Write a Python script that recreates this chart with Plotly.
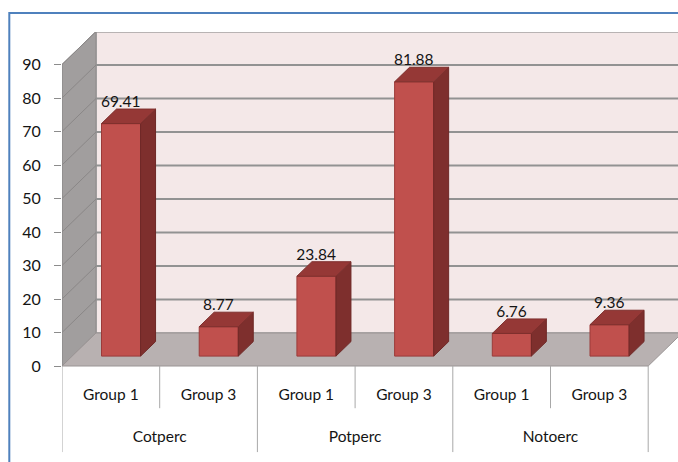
import plotly.graph_objects as go

# ---- data ----
main_categories = ["Cotperc", "Potperc", "Notoerc"]
sub_categories = ["Group 1", "Group 3"]
values = [69.41, 8.77, 23.84, 81.88, 6.76, 9.36]
value_labels = ["69.41", "8.77", "23.84", "81.88", "6.76", "9.36"]
y_ticks = [0, 10, 20, 30, 40, 50, 60, 70, 80, 90]

# ---- pseudo-3D geometry (in axis units) ----
DX = 0.348      # depth shift along x (category units)
DY = 9.85       # depth shift along y (value units)
Y_MAX = 90
BAR_W = 0.4
BAR_D0 = 0.30   # bar front depth (fraction of floor depth)
BAR_D = 0.44    # bar depth (fraction)

n = len(values)
xs = list(range(n))
x_left, x_right = -0.5, n - 0.5
X_RANGE = [x_left, x_left + 616 / 97.7]
Y_RANGE = [-(462 - 366) / 3.35, (366 - 32) / 3.35]

FONT = "Lato"
TXT = "#141414"

fig = go.Figure()

def poly(px, py, fill, line="rgba(0,0,0,0)", lw=0, ax=("x", "y")):
    fig.add_trace(go.Scatter(x=px + [px[0]], y=py + [py[0]], fill="toself", mode="lines",
                             fillcolor=fill, line=dict(color=line, width=lw),
                             xaxis=ax[0], yaxis=ax[1],
                             hoverinfo="skip", showlegend=False))

def seg(px, py, color, width):
    fig.add_trace(go.Scatter(x=px, y=py, mode="lines", line=dict(color=color, width=width),
                             hoverinfo="skip", showlegend=False))

# back wall
poly([x_left + DX, x_right + DX + 1, x_right + DX + 1, x_left + DX],
     [DY, DY, Y_MAX + DY, Y_MAX + DY], "#F4E8E8", "#9A9A9A", 1.5)
# left wall
poly([x_left, x_left + DX, x_left + DX, x_left],
     [0, DY, Y_MAX + DY, Y_MAX], "#A19E9E", "#8E8B8B", 1)
# floor
poly([x_left, x_right, x_right + DX, x_left + DX],
     [0, 0, DY, DY], "#B8B1B1", "#9A9494", 1)

# gridlines (back wall + left wall)
for v in y_ticks[1:]:
    seg([x_left + DX, x_right + DX + 1], [v + DY, v + DY], "#929292", 2)
    seg([x_left, x_left + DX], [v, v + DY], "#8A8787", 1)

# category separators below the floor
for b in [x_left, 1.5, 3.5, x_right]:
    seg([b, b], [0, -25.7], "#A8A8A8", 1)
for b in [0.5, 2.5, 4.5]:
    seg([b, b], [0, -12.6], "#A8A8A8", 1)
seg([x_left, x_left], [0, Y_MAX], "#8E8B8B", 1)

# bars: front faces (on an overlaying axis pair so they sit above the walls)
fig.add_trace(go.Bar(x=[i + BAR_D0 * DX for i in xs], y=values, base=[BAR_D0 * DY] * n,
                     width=BAR_W, marker=dict(color="#C0504D", line=dict(color="#9B3B39", width=1)),
                     xaxis="x2", yaxis="y2", hoverinfo="skip", showlegend=False))

# bars: side + top faces
for i, v in enumerate(values):
    xl = i + BAR_D0 * DX - BAR_W / 2
    xr = xl + BAR_W
    b = BAR_D0 * DY
    t = v + b
    ddx, ddy = BAR_D * DX, BAR_D * DY
    poly([xr, xr + ddx, xr + ddx, xr], [b, b + ddy, t + ddy, t], "#7E2F2D", "#6E2826", 1, ("x2", "y2"))
    poly([xl, xr, xr + ddx, xl + ddx], [t, t, t + ddy, t + ddy], "#953836", "#7E2F2D", 1, ("x2", "y2"))

# value labels
fig.add_trace(go.Scatter(x=[i + BAR_D0 * DX + BAR_D * DX / 2 - 0.08 for i in xs],
                         y=[v + (BAR_D0 + BAR_D) * DY - 0.6 for v in values],
                         mode="text", text=value_labels, textposition="top center",
                         textfont=dict(family=FONT, size=15.5, color=TXT),
                         xaxis="x2", yaxis="y2",
                         hoverinfo="skip", showlegend=False, cliponaxis=False))

# category labels
sub_text = [sub_categories[i % 2] for i in xs]
fig.add_trace(go.Scatter(x=xs, y=[-8.9] * n, mode="text", text=sub_text,
                         textfont=dict(family=FONT, size=15.5, color=TXT),
                         hoverinfo="skip", showlegend=False, cliponaxis=False))
fig.add_trace(go.Scatter(x=[0.5, 2.5, 4.5], y=[-21.5] * 3, mode="text", text=main_categories,
                         textfont=dict(family=FONT, size=15.5, color=TXT),
                         hoverinfo="skip", showlegend=False, cliponaxis=False))

fig.update_layout(
    width=678, height=462,
    margin=dict(l=62, r=0, t=32, b=0),
    paper_bgcolor="white", plot_bgcolor="white",
    showlegend=False,
    xaxis=dict(range=X_RANGE, visible=False, fixedrange=True),
    yaxis=dict(range=Y_RANGE, tickvals=y_ticks,
               showgrid=False, zeroline=False, showline=False,
               ticks="outside", ticklen=7, tickcolor="#8C8C8C", ticklabelstandoff=10,
               tickfont=dict(family=FONT, size=16, color=TXT), fixedrange=True),
    xaxis2=dict(range=X_RANGE, overlaying="x", visible=False, fixedrange=True),
    yaxis2=dict(range=Y_RANGE, overlaying="y", visible=False, fixedrange=True),
    shapes=[dict(type="rect", xref="paper", yref="paper",
                 x0=(9.3 - 62) / 616, x1=1.05, y0=-0.05, y1=(462 - 13) / 430,
                 line=dict(color="#4F81BD", width=2), fillcolor="rgba(0,0,0,0)", layer="above")],
)

fig.write_html("out.html", config={"displayModeBar": False},
               post_script="document.body.style.margin='0';document.body.style.overflow='hidden';")
